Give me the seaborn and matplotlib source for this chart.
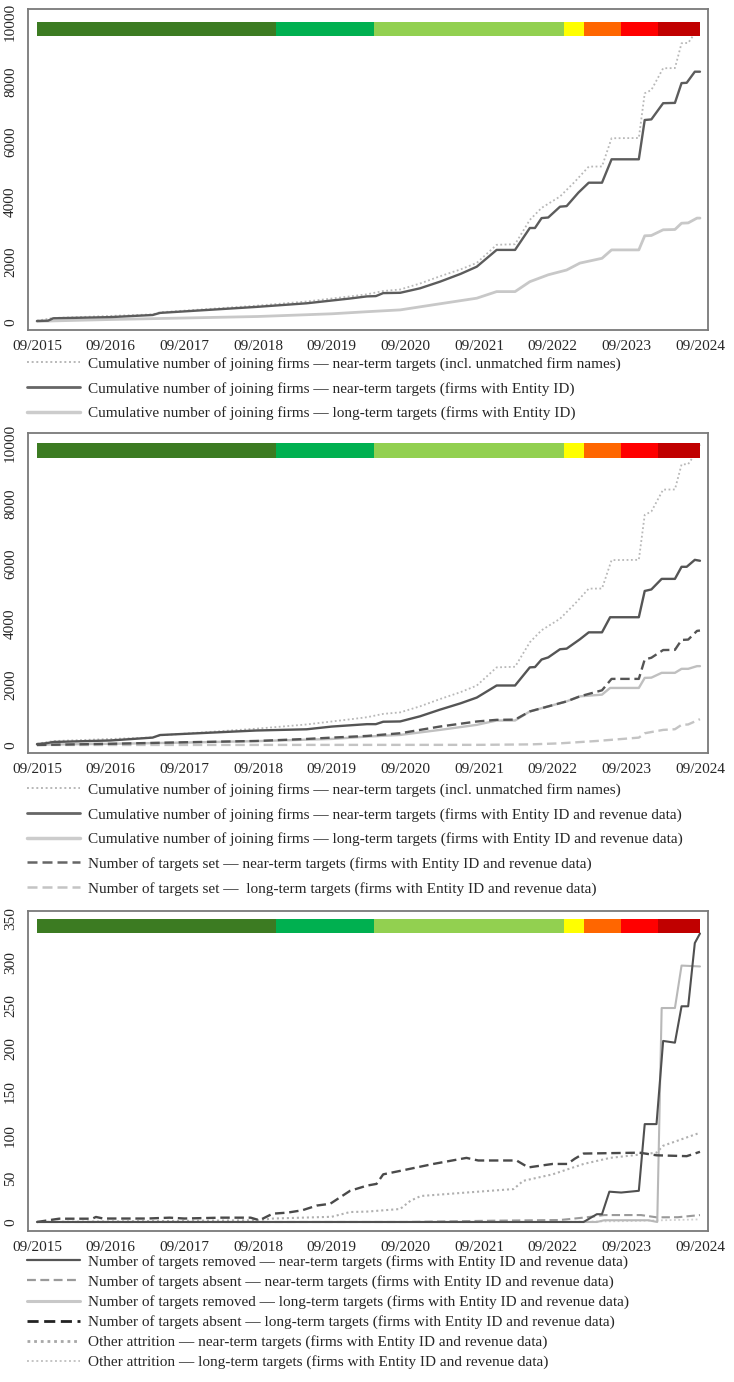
import numpy as np
import pandas as pd
import matplotlib
matplotlib.use("Agg")
import matplotlib.pyplot as plt
from matplotlib.lines import Line2D
import seaborn as sns

# ---------------- data (x in decimal years; 2015.67 = 09/2015) ----------------
tick_years = [2015.67, 2016.67, 2017.67, 2018.67, 2019.67, 2020.67, 2021.67, 2022.67, 2023.67, 2024.67]
tick_labels = ["09/2015", "09/2016", "09/2017", "09/2018", "09/2019",
               "09/2020", "09/2021", "09/2022", "09/2023", "09/2024"]

phase_bounds = [2015.67, 2018.91, 2020.24, 2022.83, 2023.09, 2023.60, 2024.10, 2024.67]
phase_colors = ["#3C7B22", "#00B050", "#92D050", "#FFFF00", "#FF6600", "#FF0000", "#C00000"]

# Cumulative joining firms, near-term, incl. unmatched names (panels 1 & 2)
all_x = [2015.67, 2015.89, 2017.24, 2017.34, 2018.65, 2019.33, 2019.92, 2020.15, 2020.37, 2020.60,
         2020.87, 2021.14, 2021.42, 2021.64, 2021.91, 2022.16, 2022.36, 2022.52, 2022.77, 2022.97,
         2023.16, 2023.34, 2023.47, 2023.84, 2023.92, 2024.01, 2024.17, 2024.33, 2024.42, 2024.51,
         2024.60, 2024.67]
all_y = [40, 130, 250, 320, 540, 680, 850, 920, 1030, 1080,
         1280, 1520, 1750, 1967, 2570, 2590, 3400, 3800, 4180, 4670,
         5177, 5180, 6122, 6130, 7620, 7730, 8456, 8460, 9289, 9300,
         9620, 9950]

# Panel 1: firms with Entity ID
p1_near_x = [2015.67, 2015.82, 2015.89, 2016.67, 2017.24, 2017.34, 2018.65, 2019.33, 2019.92, 2020.15,
             2020.27, 2020.37, 2020.60, 2020.87, 2021.14, 2021.42, 2021.64, 2021.91, 2022.16, 2022.36,
             2022.43, 2022.52, 2022.61, 2022.77, 2022.86, 2023.02, 2023.16, 2023.34, 2023.47, 2023.84,
             2023.92, 2024.01, 2024.17, 2024.33, 2024.42, 2024.49, 2024.60, 2024.67]
p1_near_y = [30, 40, 120, 160, 230, 300, 500, 620, 780, 850,
             860, 960, 970, 1120, 1340, 1600, 1840, 2400, 2400, 3130,
             3130, 3460, 3480, 3840, 3860, 4310, 4640, 4640, 5420, 5420,
             6730, 6750, 7290, 7300, 7960, 7970, 8340, 8340]
p1_long_x = [2015.67, 2016.67, 2017.67, 2018.67, 2019.67, 2020.15, 2020.60, 2021.05, 2021.64, 2021.91,
             2022.16, 2022.36, 2022.61, 2022.86, 2023.04, 2023.34, 2023.47, 2023.84, 2023.92, 2024.01,
             2024.17, 2024.33, 2024.42, 2024.51, 2024.63, 2024.67]
p1_long_y = [20, 80, 130, 180, 270, 340, 400, 570, 790, 1010,
             1010, 1340, 1570, 1730, 1960, 2120, 2400, 2400, 2870, 2880,
             3070, 3080, 3290, 3300, 3460, 3460]

# Panel 2: firms with Entity ID and revenue data
p2_near_x = [2015.67, 2015.80, 2015.89, 2016.67, 2017.24, 2017.34, 2018.65, 2019.33, 2019.67, 2020.15,
             2020.27, 2020.37, 2020.60, 2020.87, 2021.14, 2021.42, 2021.64, 2021.91, 2022.16, 2022.36,
             2022.43, 2022.52, 2022.61, 2022.77, 2022.86, 2023.04, 2023.16, 2023.34, 2023.45, 2023.84,
             2023.92, 2024.01, 2024.15, 2024.33, 2024.42, 2024.49, 2024.60, 2024.67]
p2_near_y = [30, 60, 100, 150, 245, 330, 480, 520, 610, 690,
             690, 770, 780, 950, 1170, 1380, 1570, 1970, 1970, 2570,
             2580, 2830, 2900, 3170, 3190, 3500, 3730, 3730, 4230, 4230,
             5100, 5150, 5500, 5500, 5900, 5900, 6130, 6100]
p2_long_x = [2015.67, 2016.67, 2017.67, 2018.67, 2019.67, 2020.15, 2020.60, 2021.14, 2021.64, 2021.91,
             2022.16, 2022.36, 2022.61, 2022.86, 2023.04, 2023.34, 2023.45, 2023.84, 2023.92, 2024.01,
             2024.15, 2024.33, 2024.42, 2024.51, 2024.63, 2024.67]
p2_long_y = [10, 40, 80, 130, 200, 278, 333, 500, 667, 811,
             811, 1111, 1278, 1444, 1611, 1667, 1889, 1889, 2222, 2230,
             2389, 2389, 2522, 2522, 2611, 2611]
p2_set_near_x = [2015.67, 2016.67, 2017.67, 2018.65, 2019.33, 2019.67, 2020.15, 2020.60, 2021.14, 2021.64,
                 2021.91, 2022.16, 2022.36, 2022.61, 2022.86, 2023.04, 2023.34, 2023.47, 2023.84, 2023.92,
                 2024.01, 2024.17, 2024.33, 2024.42, 2024.51, 2024.63, 2024.67]
p2_set_near_y = [0, 40, 90, 133, 200, 244, 300, 389, 611, 778,
                 833, 840, 1111, 1278, 1444, 1611, 1811, 2189, 2189, 2833,
                 2889, 3144, 3150, 3478, 3490, 3778, 3790]
p2_set_long_x = [2015.67, 2021.67, 2022.37, 2022.77, 2023.27, 2023.84, 2023.92, 2024.17, 2024.33, 2024.42, 2024.51, 2024.67]
p2_set_long_y = [0, 5, 20, 55, 133, 244, 389, 500, 522, 667, 680, 856]

# Panel 3: attrition (firms with Entity ID and revenue data)
rem_near_x = [2015.67, 2023.09, 2023.27, 2023.34, 2023.44, 2023.60, 2023.84, 2023.92, 2024.08, 2024.17,
              2024.33, 2024.42, 2024.51, 2024.60, 2024.67]
rem_near_y = [0, 0, 9, 9, 35, 34, 36, 113, 113, 209,
              207, 249, 249, 322, 333]
abs_near_x = [2015.67, 2020.67, 2021.87, 2022.77, 2023.13, 2023.37, 2023.87, 2024.08, 2024.37, 2024.67]
abs_near_y = [0, 0, 1.5, 2.3, 5.4, 8, 8, 5.4, 5.5, 8]
rem_long_x = [2015.67, 2023.27, 2023.37, 2023.97, 2024.09, 2024.15, 2024.33, 2024.42, 2024.67]
rem_long_y = [0, 0, 2, 2, 0, 247, 247, 296, 295]
abs_long_x = [2015.67, 2015.85, 2015.97, 2016.42, 2016.47, 2016.57, 2017.17, 2017.47, 2017.67, 2018.17,
              2018.57, 2018.69, 2018.87, 2019.07, 2019.27, 2019.47, 2019.65, 2019.92, 2020.15, 2020.28,
              2020.37, 2020.60, 2021.05, 2021.50, 2021.66, 2022.18, 2022.34, 2022.67, 2022.87, 2022.97,
              2023.09, 2023.85, 2024.08, 2024.49, 2024.67]
abs_long_y = [0, 2.3, 3.8, 3.8, 5.8, 4, 4, 5, 4, 5,
              5, 2, 9.6, 10.8, 13.5, 19, 21, 36, 42, 44,
              55, 59, 67, 74, 71, 71, 63, 67, 67, 73,
              79, 80, 77, 76, 81]
oth_near_x = [2015.67, 2018.67, 2018.87, 2019.67, 2019.92, 2020.15, 2020.60, 2020.74, 2020.88, 2021.50,
              2022.14, 2022.27, 2022.67, 2023.09, 2023.45, 2024.08, 2024.17, 2024.67]
oth_near_y = [0, 2, 4, 6, 11.5, 12, 15, 24.5, 30, 34,
              38, 47.5, 55, 67, 74, 80, 88, 103]
oth_long_x = [2015.67, 2022.67, 2023.67, 2024.67]
oth_long_y = [0, 0, 1, 3]

# ---------------- style ----------------
sns.set_style("white")
plt.rcParams['font.family'] = ['Liberation Serif', 'DejaVu Serif']
plt.rcParams['font.size'] = 11

W, H = 734, 1382
fig = plt.figure(figsize=(W / 100, H / 100), dpi=100)

def ax_at(top, bottom, left=28, right=708):
    return fig.add_axes([left / W, 1 - bottom / H, (right - left) / W, (bottom - top) / H])

ax1 = ax_at(9, 330)
ax2 = ax_at(433, 753)
ax3 = ax_at(911, 1231)

DOT = (1, 1.4)
DASH = (4, 2)

def line(ax, x, y, color, lw, dashes=None):
    df = pd.DataFrame({"x": x, "y": y})
    sns.lineplot(data=df, x="x", y="y", ax=ax, color=color, lw=lw,
                 estimator=None, sort=False, legend=False)
    if dashes is not None:
        ax.lines[-1].set_dashes(dashes)

def style_ax(ax, ylim, yticks, bar_lo, bar_hi):
    widths = np.diff(phase_bounds)
    ax.barh(y=(bar_lo + bar_hi) / 2, width=widths, left=phase_bounds[:-1],
            height=bar_hi - bar_lo, color=phase_colors, linewidth=0, zorder=3, align="center")
    ax.set_xlim(2015.548, 2024.779)
    ax.set_ylim(*ylim)
    ax.set_xticks(tick_years)
    ax.set_xticklabels(tick_labels)
    ax.set_yticks(yticks)
    ax.set_yticklabels([str(v) for v in yticks], rotation=90, va="center")
    ax.set_xlabel("")
    ax.set_ylabel("")
    ax.tick_params(direction="out", length=5, width=1, color="#666666", pad=2, labelsize=11)
    ax.tick_params(axis="y", pad=3)
    for s in ax.spines.values():
        s.set_visible(True)
        s.set_color("#7a7a7a")
        s.set_linewidth(1.3)

# Panel 1
line(ax1, all_x, all_y, "#b8b8b8", 1.3, DOT)
line(ax1, p1_long_x, p1_long_y, "#c8c8c8", 2.0)
line(ax1, p1_near_x, p1_near_y, "#5c5c5c", 1.7)
style_ax(ax1, (-270, 10430), [0, 2000, 4000, 6000, 8000, 10000], 9530, 10000)

# Panel 2
line(ax2, all_x, all_y, "#b8b8b8", 1.3, DOT)
line(ax2, p2_set_long_x, p2_set_long_y, "#c4c4c4", 1.7, DASH)
line(ax2, p2_long_x, p2_long_y, "#c0c0c0", 1.7)
line(ax2, p2_set_near_x, p2_set_near_y, "#555555", 1.7, DASH)
line(ax2, p2_near_x, p2_near_y, "#555555", 1.7)
style_ax(ax2, (-265, 10330), [0, 2000, 4000, 6000, 8000, 10000], 9500, 10000)

# Panel 3
line(ax3, oth_long_x, oth_long_y, "#d0d0d0", 1.3, DOT)
line(ax3, oth_near_x, oth_near_y, "#b0b0b0", 1.5, DOT)
line(ax3, abs_near_x, abs_near_y, "#9a9a9a", 1.5, DASH)
line(ax3, rem_long_x, rem_long_y, "#b8b8b8", 1.5)
line(ax3, abs_long_x, abs_long_y, "#4a4a4a", 1.7, DASH)
line(ax3, rem_near_x, rem_near_y, "#505050", 1.5)
style_ax(ax3, (-10.4, 359), [0, 50, 100, 150, 200, 250, 300, 350], 334, 350)

# ---------------- legends ----------------
def H_(color, lw, dashes=None):
    h = Line2D([0], [0], color=color, lw=lw)
    if dashes is not None:
        h.set_dashes(dashes)
    return h

def legend(handles, labels, top, spacing):
    fig.legend(handles, labels, loc="upper left", bbox_to_anchor=(27 / W, 1 - top / H),
               bbox_transform=fig.transFigure, frameon=False, fontsize=11,
               handlelength=3.5, handletextpad=0.5, labelspacing=spacing,
               borderpad=0, borderaxespad=0)

legend([H_("#b8b8b8", 1.4, DOT), H_("#666666", 2.0), H_("#cccccc", 2.5)],
       ["Cumulative number of joining firms — near-term targets (incl. unmatched firm names)",
        "Cumulative number of joining firms — near-term targets (firms with Entity ID)",
        "Cumulative number of joining firms — long-term targets (firms with Entity ID)"],
       357, 0.7)

legend([H_("#b8b8b8", 1.4, DOT), H_("#666666", 2.0), H_("#cccccc", 2.5),
        H_("#666666", 1.8, DASH), H_("#c4c4c4", 1.8, DASH)],
       ["Cumulative number of joining firms — near-term targets (incl. unmatched firm names)",
        "Cumulative number of joining firms — near-term targets (firms with Entity ID and revenue data)",
        "Cumulative number of joining firms — long-term targets (firms with Entity ID and revenue data)",
        "Number of targets set — near-term targets (firms with Entity ID and revenue data)",
        "Number of targets set —  long-term targets (firms with Entity ID and revenue data)"],
       783, 0.7)

legend([H_("#555555", 1.6), H_("#9a9a9a", 1.6, DASH), H_("#c8c8c8", 2.2),
        H_("#222222", 2.0, DASH), H_("#a8a8a8", 2.0, DOT), H_("#c4c4c4", 1.4, DOT)],
       ["Number of targets removed — near-term targets (firms with Entity ID and revenue data)",
        "Number of targets absent — near-term targets (firms with Entity ID and revenue data)",
        "Number of targets removed — long-term targets (firms with Entity ID and revenue data)",
        "Number of targets absent — long-term targets (firms with Entity ID and revenue data)",
        "Other attrition — near-term targets (firms with Entity ID and revenue data)",
        "Other attrition — long-term targets (firms with Entity ID and revenue data)"],
       1255, 0.4)

fig.savefig("out.png", dpi=100)
